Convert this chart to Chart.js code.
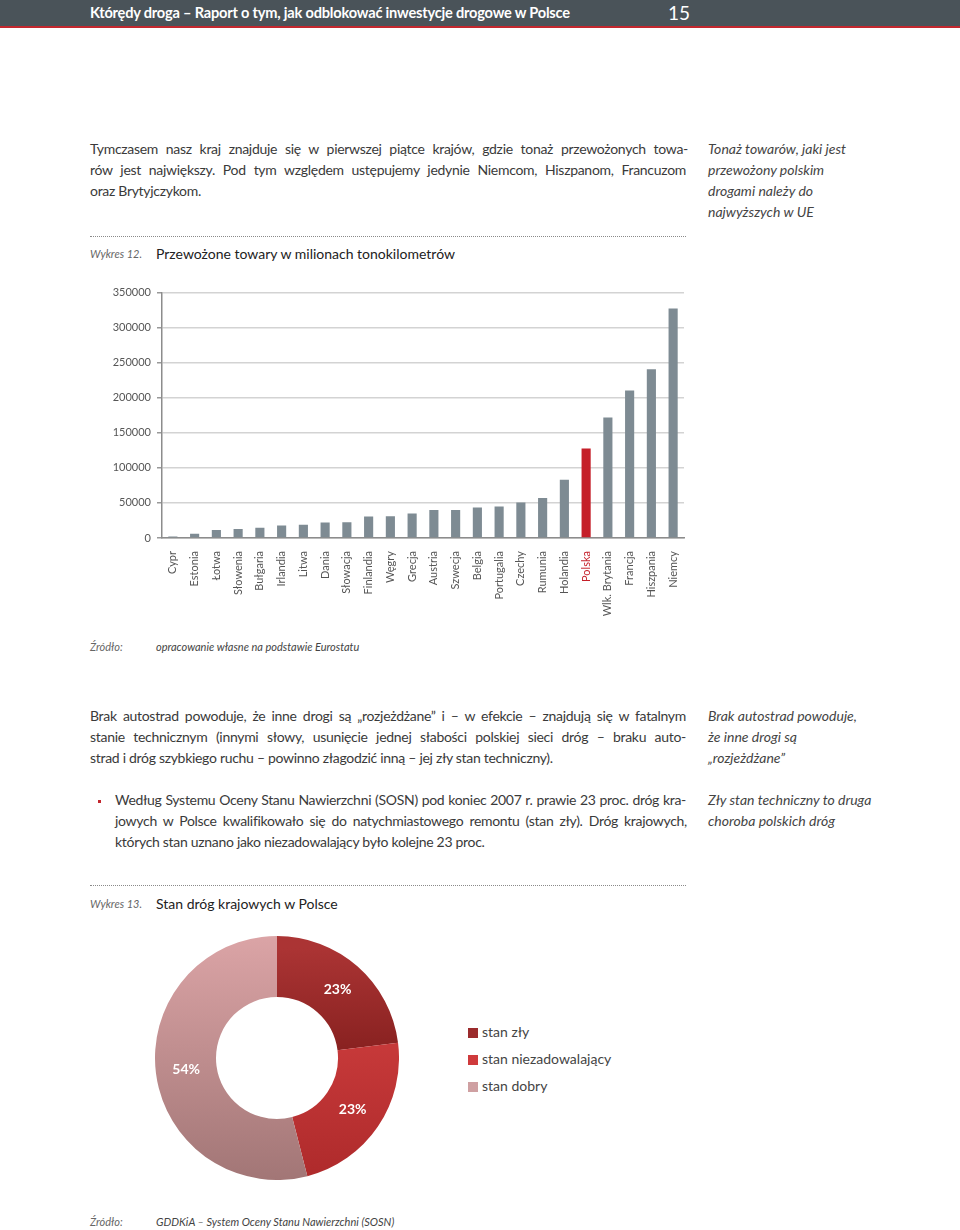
<!DOCTYPE html>
<html lang="pl">
<head>
<meta charset="utf-8">
<title>Przewożone towary</title>
<script src="https://cdn.jsdelivr.net/npm/chart.js@4.4.1/dist/chart.umd.min.js"></script>
<style>
  html, body { margin: 0; padding: 0; background: #fff; }
  body { width: 960px; height: 1230px; position: relative; overflow: hidden; font-family: Lato, "Open Sans", sans-serif; color: #3a3a3a; }
  .header { position: absolute; left: 0; top: 0; width: 960px; height: 26px; background: #4a5359; border-bottom: 2px solid #c3272e; }
  .header .title { position: absolute; left: 90px; top: 4px; font-size: 14.6px; font-weight: bold; color: #fff; letter-spacing: -0.2px; }
  .header .page { position: absolute; left: 668px; top: 1px; font-size: 19px; color: #fff; }
  .ln { position: absolute; height: 20px; line-height: 20px; font-size: 14px; white-space: nowrap; letter-spacing: -0.3px; }
  .just { text-align: justify; text-align-last: justify; }
  .side { position: absolute; left: 708px; font-size: 14px; font-style: italic; color: #444; height: 21px; line-height: 21px; white-space: nowrap; }
  .dots { position: absolute; left: 90px; width: 596px; border-top: 1px dotted #8a8a8a; height: 0; }
  .lbl { position: absolute; left: 90px; font-size: 11px; font-style: italic; color: #666; }
  .cap { position: absolute; left: 156px; font-size: 14px; color: #222; }
  .src { position: absolute; left: 156px; font-size: 11px; font-style: italic; color: #444; }
  .bullet { position: absolute; left: 98px; width: 3px; height: 3px; background: #c3272e; }
  .legend { position: absolute; left: 468px; top: 1022px; font-size: 14px; color: #444; }
  .legend div { height: 27px; line-height: 20px; white-space: nowrap; }
  .legend span { display: inline-block; width: 10px; height: 10px; margin-right: 4px; vertical-align: -1px; }
</style>
</head>
<body>
<div class="header"><div class="title">Którędy droga – Raport o tym, jak odblokować inwestycje drogowe w Polsce</div><div class="page">15</div></div>

<div class="ln just" style="left:90px;top:139px;width:598px">Tymczasem nasz kraj znajduje się w pierwszej piątce krajów, gdzie tonaż przewożonych towa-</div>
<div class="ln just" style="left:90px;top:160px;width:596px">rów jest największy. Pod tym względem ustępujemy jedynie Niemcom, Hiszpanom, Francuzom</div>
<div class="ln" style="left:90px;top:181px">oraz Brytyjczykom.</div>

<div class="side" style="top:138px">Tonaż towarów, jaki jest</div>
<div class="side" style="top:159px">przewożony polskim</div>
<div class="side" style="top:180px">drogami należy do</div>
<div class="side" style="top:201px">najwyższych w UE</div>

<div class="dots" style="top:236px"></div>
<div class="lbl" style="top:247px">Wykres 12.</div>
<div class="cap" style="top:245px">Przewożone towary w milionach tonokilometrów</div>

<div style="position:absolute;left:90px;top:280px;width:610px;height:340px"><canvas id="barChart"></canvas></div>

<div class="lbl" style="top:640px">Źródło:</div>
<div class="src" style="top:640px">opracowanie własne na podstawie Eurostatu</div>

<div class="ln just" style="left:90px;top:706px;width:596px">Brak autostrad powoduje, że inne drogi są „rozjeżdżane” i – w efekcie – znajdują się w fatalnym</div>
<div class="ln just" style="left:90px;top:727px;width:596px">stanie technicznym (innymi słowy, usunięcie jednej słabości polskiej sieci dróg – braku auto-</div>
<div class="ln" style="left:90px;top:748px">strad i dróg szybkiego ruchu – powinno złagodzić inną – jej zły stan techniczny).</div>

<div class="side" style="top:705px">Brak autostrad powoduje,</div>
<div class="side" style="top:726px">że inne drogi są</div>
<div class="side" style="top:747px">„rozjeżdżane”</div>

<div class="bullet" style="top:800px"></div>
<div class="ln just" style="left:115px;top:790px;width:571px">Według Systemu Oceny Stanu Nawierzchni (SOSN) pod koniec 2007 r. prawie 23 proc. dróg kra-</div>
<div class="ln just" style="left:115px;top:811px;width:572px">jowych w Polsce kwalifikowało się do natychmiastowego remontu (stan zły). Dróg krajowych,</div>
<div class="ln" style="left:115px;top:832px">których stan uznano jako niezadowalający było kolejne 23 proc.</div>

<div class="side" style="top:789px">Zły stan techniczny to druga</div>
<div class="side" style="top:810px">choroba polskich dróg</div>

<div class="dots" style="top:885px"></div>
<div class="lbl" style="top:897px">Wykres 13.</div>
<div class="cap" style="top:895px">Stan dróg krajowych w Polsce</div>

<div style="position:absolute;left:155px;top:936px;width:244px;height:244px"><canvas id="donutChart"></canvas></div>
<div class="legend" id="legend"></div>

<div class="lbl" style="top:1215px">Źródło:</div>
<div class="src" style="top:1215px">GDDKiA – System Oceny Stanu Nawierzchni (SOSN)</div>

<script>
// Data
const countries = ['Cypr', 'Estonia', 'Łotwa', 'Słowenia', 'Bułgaria', 'Irlandia', 'Litwa', 'Dania',
  'Słowacja', 'Finlandia', 'Węgry', 'Grecja', 'Austria', 'Szwecja', 'Belgia', 'Portugalia', 'Czechy',
  'Rumunia', 'Holandia', 'Polska', 'Wlk. Brytania', 'Francja', 'Hiszpania', 'Niemcy'];
const freight = [2000, 6100, 11300, 12700, 14600, 17900, 18900, 22200, 22600, 30700, 31100, 34900,
  40100, 40100, 43400, 44800, 50500, 57100, 83000, 127800, 171700, 210400, 240600, 327400];
const yMax = 350000;
const yStep = 50000;
const highlight = 'Polska';

const roadStates = ['stan zły', 'stan niezadowalający', 'stan dobry'];
const roadShares = [23, 23, 54];

// Styles
const GREY_BAR = '#7e8b93';
const RED_BAR = '#c51f29';
const TICK_COLOR = '#555';
const FONT = 'Lato, "Open Sans", sans-serif';
const SLICE_GRADIENTS = [
  ['#ab3434', '#86201f'],
  ['#d84444', '#ae2a2b'],
  ['#dba4a6', '#a27676']
];
const LEGEND_COLORS = ['#9b2b2c', '#cf3a3c', '#cfa0a2'];

Chart.defaults.font.family = FONT;
Chart.defaults.animation = false;

const createBarChart = () => {
  const ctx = document.getElementById('barChart');
  return new Chart(ctx, {
    type: 'bar',
    data: {
      labels: countries,
      datasets: [{
        data: freight,
        backgroundColor: countries.map(c => c === highlight ? RED_BAR : GREY_BAR),
        barPercentage: 0.42,
        categoryPercentage: 1,
        minBarLength: 1
      }]
    },
    options: {
      responsive: true,
      maintainAspectRatio: false,
      layout: { padding: { top: 11, right: 16, left: 0, bottom: 0 } },
      plugins: { legend: { display: false }, tooltip: { enabled: false } },
      scales: {
        x: {
          grid: { display: false },
          border: { display: true, color: '#8c8c8c', width: 1.5 },
          ticks: {
            autoSkip: false,
            minRotation: 90,
            maxRotation: 90,
            padding: 5,
            font: { size: 11 },
            color: (c) => countries[c.index] === highlight ? RED_BAR : TICK_COLOR
          },
          afterFit: (scale) => { scale.height = 82; }
        },
        y: {
          min: 0,
          max: yMax,
          ticks: {
            stepSize: yStep,
            padding: 6,
            font: { size: 11 },
            color: TICK_COLOR,
            callback: (value) => String(value)
          },
          grid: { color: '#d3d3d3', lineWidth: 1.5, tickLength: 5, tickColor: '#999' },
          border: { display: true, color: '#8c8c8c', width: 1.5 },
          afterFit: (scale) => { scale.width = 72; }
        }
      }
    }
  });
};

const sliceLabels = {
  id: 'sliceLabels',
  afterDatasetsDraw(chart) {
    const { ctx } = chart;
    const meta = chart.getDatasetMeta(0);
    ctx.save();
    ctx.fillStyle = '#fff';
    ctx.font = 'bold 14px ' + FONT;
    ctx.textAlign = 'center';
    ctx.textBaseline = 'middle';
    meta.data.forEach((arc, i) => {
      const pos = arc.tooltipPosition();
      ctx.fillText(roadShares[i] + '%', pos.x, pos.y);
    });
    ctx.restore();
  }
};

const sliceColor = (c) => {
  const area = c.chart.chartArea;
  if (!area) return LEGEND_COLORS[c.dataIndex];
  const g = c.chart.ctx.createLinearGradient(0, area.top, 0, area.bottom);
  const [top, bottom] = SLICE_GRADIENTS[c.dataIndex];
  if (c.dataIndex === 2) {
    g.addColorStop(0, top);
    g.addColorStop(1, bottom);
  } else {
    g.addColorStop(0.05, top);
    g.addColorStop(c.dataIndex === 0 ? 0.5 : 1, bottom);
  }
  return g;
};

const createDonutChart = () => {
  const ctx = document.getElementById('donutChart');
  return new Chart(ctx, {
    type: 'doughnut',
    data: {
      labels: roadStates,
      datasets: [{ data: roadShares, backgroundColor: sliceColor, borderWidth: 0 }]
    },
    options: {
      responsive: true,
      maintainAspectRatio: false,
      cutout: '50%',
      layout: { padding: 0 },
      plugins: { legend: { display: false }, tooltip: { enabled: false } }
    },
    plugins: [sliceLabels]
  });
};

const buildLegend = () => {
  const box = document.getElementById('legend');
  roadStates.forEach((name, i) => {
    const row = document.createElement('div');
    const sw = document.createElement('span');
    sw.style.background = LEGEND_COLORS[i];
    row.appendChild(sw);
    row.appendChild(document.createTextNode(name));
    box.appendChild(row);
  });
};

createBarChart();
createDonutChart();
buildLegend();
</script>
</body>
</html>
